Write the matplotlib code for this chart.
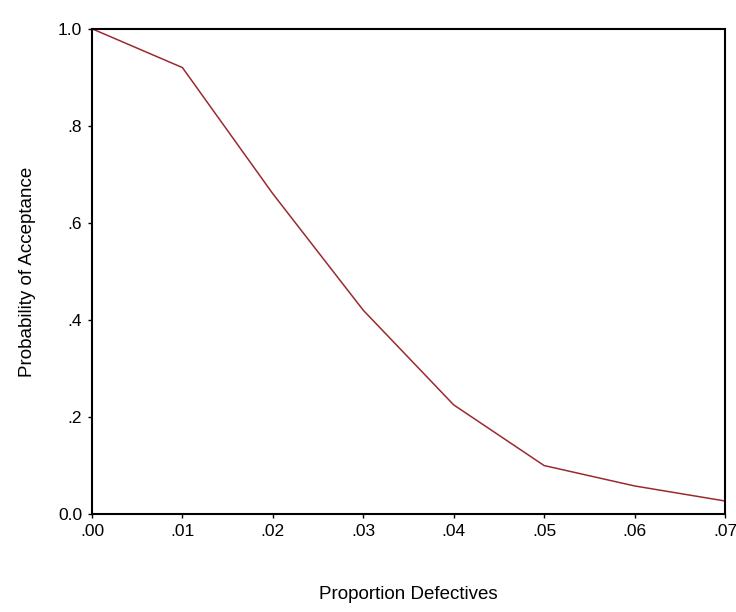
import matplotlib.pyplot as plt

# OC curve values
proportion = [0.00, 0.01, 0.02, 0.03, 0.04, 0.05, 0.06, 0.07]
prob_accept = [1.00, 0.92, 0.66, 0.42, 0.225, 0.10, 0.058, 0.027]

x_ticks = [0.00, 0.01, 0.02, 0.03, 0.04, 0.05, 0.06, 0.07]
x_labels = [".00", ".01", ".02", ".03", ".04", ".05", ".06", ".07"]
y_ticks = [0.0, 0.2, 0.4, 0.6, 0.8, 1.0]
y_labels = ["0.0", ".2", ".4", ".6", ".8", "1.0"]

plt.rcParams['font.family'] = ['Liberation Sans', 'DejaVu Sans']

fig = plt.figure(figsize=(7.36, 6.12), dpi=100)
ax = fig.add_axes([0.125, 0.160, 0.860, 0.793])

ax.plot(proportion, prob_accept, color='#9a2a30', linewidth=1.1)

ax.set_xlim(0, 0.07)
ax.set_ylim(0, 1.0)
ax.set_xticks(x_ticks)
ax.set_xticklabels(x_labels)
ax.set_yticks(y_ticks)
ax.set_yticklabels(y_labels)
ax.tick_params(direction='out', length=3, width=1, labelsize=12.5, pad=4)

for s in ax.spines.values():
    s.set_linewidth(1.5)

ax.set_xlabel("Proportion Defectives", fontsize=13.5, labelpad=34)
ax.set_ylabel("Probability of Acceptance", fontsize=13.5, labelpad=16)

fig.savefig("out.png", dpi=100)
